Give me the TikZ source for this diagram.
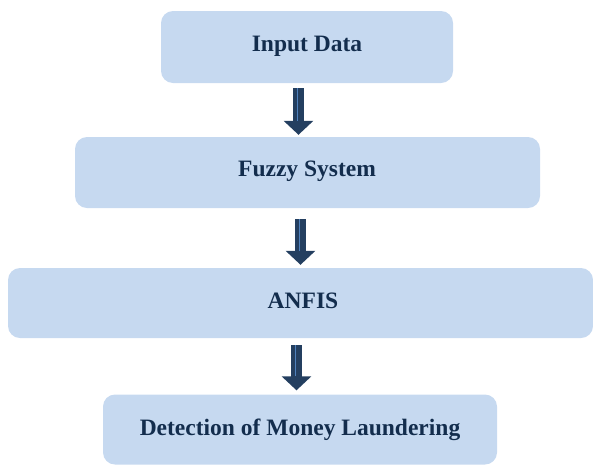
\documentclass[tikz,border=0pt]{standalone}
\usepackage{fontspec}
\setmainfont{Liberation Serif}
\usetikzlibrary{arrows.meta,calc}
\definecolor{boxfill}{HTML}{C6D9F0}
\definecolor{txt}{HTML}{132D4D}
\definecolor{arrfill}{HTML}{243F60}
\definecolor{arrline}{HTML}{4F81BD}
\tikzset{
  box/.style={rectangle, rounded corners=12pt, fill=boxfill, draw=none, text=txt,
    font=\fontsize{23.5}{27}\selectfont\bfseries, inner sep=0pt, anchor=center},
  lbl/.style={text=txt, font=\fontsize{23.5}{27}\selectfont\bfseries, inner sep=0pt},
  blockarr/.style={draw=arrfill, line width=11pt, -{Triangle[width=29pt,length=14pt]}},
  midline/.style={draw=arrline, line width=0.6pt}
}
\begin{document}
\begin{tikzpicture}[x=1pt,y=1pt]
\useasboundingbox (0,0) rectangle (593,-464);
\node[box, minimum width=292pt, minimum height=72pt] (a) at (307,-47) {};
\node[box, minimum width=465pt, minimum height=71pt] (b) at (307.5,-172.5) {};
\node[box, minimum width=585pt, minimum height=70pt] (c) at (300.5,-303) {};
\node[box, minimum width=394pt, minimum height=70pt] (d) at (300,-429.5) {};
\node[lbl] (ta) at (307,-46.5) {Input Data};
\node[lbl] (tb) at (307,-171.5) {Fuzzy System};
\node[lbl] (tc) at (303,-300.5) {ANFIS};
\node[lbl] (td) at (300,-429.5) {Detection of Money~Laundering};
% arrows
\draw[blockarr] ($(a.south)+(-8.5,-5)$) -- ($(b.north)+(-9,2)$);
\draw[midline] ($(a.south)+(-9.5,-5)$) -- ($(b.north)+(-10,16)$);
\draw[blockarr] ($(b.south)+(-7,-11)$) -- ($(c.north)+(0,3)$);
\draw[midline] ($(b.south)+(-8,-11)$) -- ($(c.north)+(-1,17)$);
\draw[blockarr] ($(c.south)+(-4,-7)$) -- ($(d.north)+(-3.5,4)$);
\draw[midline] ($(c.south)+(-5,-7)$) -- ($(d.north)+(-4.5,18)$);
\end{tikzpicture}
\end{document}
